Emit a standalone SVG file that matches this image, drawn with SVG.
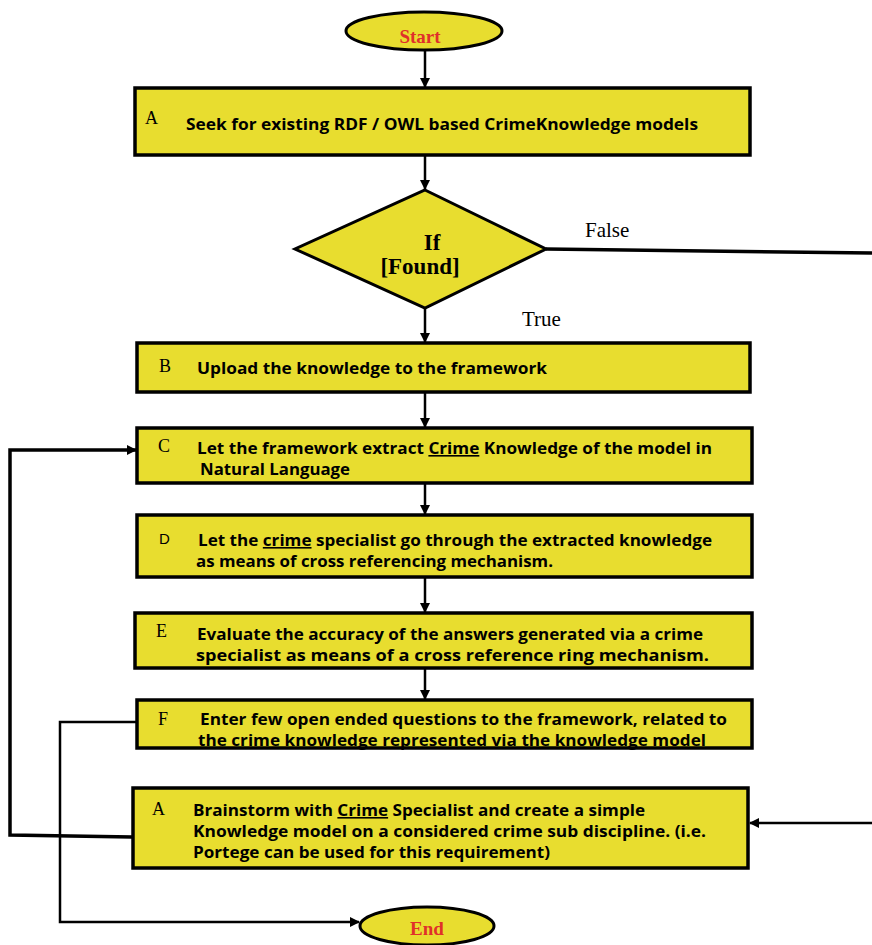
<svg xmlns="http://www.w3.org/2000/svg" width="872" height="945" viewBox="0 0 872 945">
<style>
.box{fill:#e8dd2f;stroke:#000;stroke-width:3.5}
.term{fill:#e8dd2f;stroke:#000;stroke-width:3}
.lbl{font-family:"Liberation Serif",serif;font-size:18px;fill:#000}
.t{font-family:"Open Sans","Noto Sans",sans-serif;font-weight:bold;font-size:16px;fill:#000}
.red{font-family:"Liberation Serif",serif;font-weight:bold;font-size:19px;fill:#e0302a}
.cond{font-family:"Liberation Serif",serif;font-weight:bold;font-size:23px;fill:#000}
.tf{font-family:"Liberation Serif",serif;font-size:21px;fill:#000}
.ln{fill:none;stroke:#000;stroke-width:2.5}
.thick{fill:none;stroke:#000;stroke-width:3.5}
</style>
<defs>
<marker id="ah" markerWidth="10" markerHeight="10" refX="9" refY="5" orient="auto" markerUnits="userSpaceOnUse">
<path d="M0,0 L10,5 L0,10 Z" fill="#000"/>
</marker>
</defs>

<g id="connectors">
<line class="ln" x1="425" y1="50" x2="425" y2="87" marker-end="url(#ah)"/>
<line class="ln" x1="425" y1="155" x2="425" y2="189" marker-end="url(#ah)"/>
<line class="thick" x1="546" y1="249" x2="872" y2="253"/>
<line class="ln" x1="425" y1="308" x2="425" y2="342" marker-end="url(#ah)"/>
<line class="ln" x1="425" y1="392" x2="425" y2="427" marker-end="url(#ah)"/>
<line class="ln" x1="425" y1="483" x2="425" y2="514" marker-end="url(#ah)"/>
<line class="ln" x1="425" y1="577" x2="425" y2="612" marker-end="url(#ah)"/>
<line class="ln" x1="425" y1="668" x2="425" y2="699" marker-end="url(#ah)"/>
<line class="ln" x1="872" y1="823" x2="750" y2="823" marker-end="url(#ah)"/>
<polyline class="thick" points="132,837 10,835 10,450 136,450" marker-end="url(#ah)"/>
<polyline class="ln" points="137,722 60,722 60,922 359,922" marker-end="url(#ah)"/>
<text class="tf" x="585" y="237">False</text>
<text class="tf" x="522" y="326">True</text>
</g>

<g id="start">
<ellipse class="term" cx="424" cy="31" rx="78" ry="19"/>
<text class="red" x="420" y="43" text-anchor="middle">Start</text>
</g>

<g id="nodeA">
<rect class="box" x="135" y="88" width="615" height="67"/>
<text class="lbl" x="145" y="124">A</text>
<text class="t" x="186" y="130" textLength="512" lengthAdjust="spacingAndGlyphs">Seek for existing RDF / OWL based CrimeKnowledge models</text>
</g>

<g id="decision">
<polygon points="425,190 546,249 425,308 295,249" fill="#e8dd2f" stroke="#000" stroke-width="3"/>
<text class="cond" x="432" y="250" text-anchor="middle">If</text>
<text class="cond" x="420" y="274" text-anchor="middle">[Found]</text>
</g>

<g id="nodeB">
<rect class="box" x="137" y="343" width="613" height="49"/>
<text class="lbl" x="159" y="372">B</text>
<text class="t" x="197" y="374" textLength="350" lengthAdjust="spacingAndGlyphs">Upload the knowledge to the framework</text>
</g>

<g id="nodeC">
<rect class="box" x="137" y="428" width="615" height="55"/>
<text class="lbl" x="158" y="452">C</text>
<text class="t" x="197" y="454" textLength="515" lengthAdjust="spacingAndGlyphs">Let the framework extract <tspan text-decoration="underline">Crime</tspan> Knowledge of the model in</text>
<text class="t" x="200" y="475" textLength="150" lengthAdjust="spacingAndGlyphs">Natural Language</text>
</g>

<g id="nodeD">
<rect class="box" x="137" y="515" width="615" height="62"/>
<text x="159" y="544" font-family="Liberation Sans, sans-serif" font-size="15" fill="#000">D</text>
<text class="t" x="198" y="546" textLength="514" lengthAdjust="spacingAndGlyphs">Let the <tspan text-decoration="underline">crime</tspan> specialist go through the extracted knowledge</text>
<text class="t" x="196" y="567" textLength="357" lengthAdjust="spacingAndGlyphs">as means of cross referencing mechanism.</text>
</g>

<g id="nodeE">
<rect class="box" x="135" y="613" width="617" height="55"/>
<text class="lbl" x="156" y="637">E</text>
<text class="t" x="197" y="640" textLength="506" lengthAdjust="spacingAndGlyphs">Evaluate the accuracy of the answers generated via a crime</text>
<text class="t" x="196" y="661" textLength="513" lengthAdjust="spacingAndGlyphs">specialist as means of a cross reference ring mechanism.</text>
</g>

<g id="nodeF">
<rect class="box" x="137" y="700" width="615" height="48"/>
<text class="lbl" x="158" y="725">F</text>
<text class="t" x="200" y="725" textLength="527" lengthAdjust="spacingAndGlyphs">Enter few open ended questions to the framework, related to</text>
<text class="t" x="198" y="746" textLength="508" lengthAdjust="spacingAndGlyphs">the crime knowledge represented via the knowledge model</text>
</g>

<g id="nodeA2">
<rect class="box" x="133" y="788" width="615" height="80"/>
<text class="lbl" x="152" y="815">A</text>
<text class="t" x="193" y="816" textLength="452" lengthAdjust="spacingAndGlyphs">Brainstorm with <tspan text-decoration="underline">Crime</tspan> Specialist and create a simple</text>
<text class="t" x="193" y="837" textLength="513" lengthAdjust="spacingAndGlyphs">Knowledge model on a considered crime sub discipline. (i.e.</text>
<text class="t" x="193" y="858" textLength="357" lengthAdjust="spacingAndGlyphs">Portege can be used for this requirement)</text>
</g>

<g id="end">
<ellipse class="term" cx="427" cy="926" rx="67" ry="19"/>
<text class="red" x="427" y="935" text-anchor="middle">End</text>
</g>
</svg>
